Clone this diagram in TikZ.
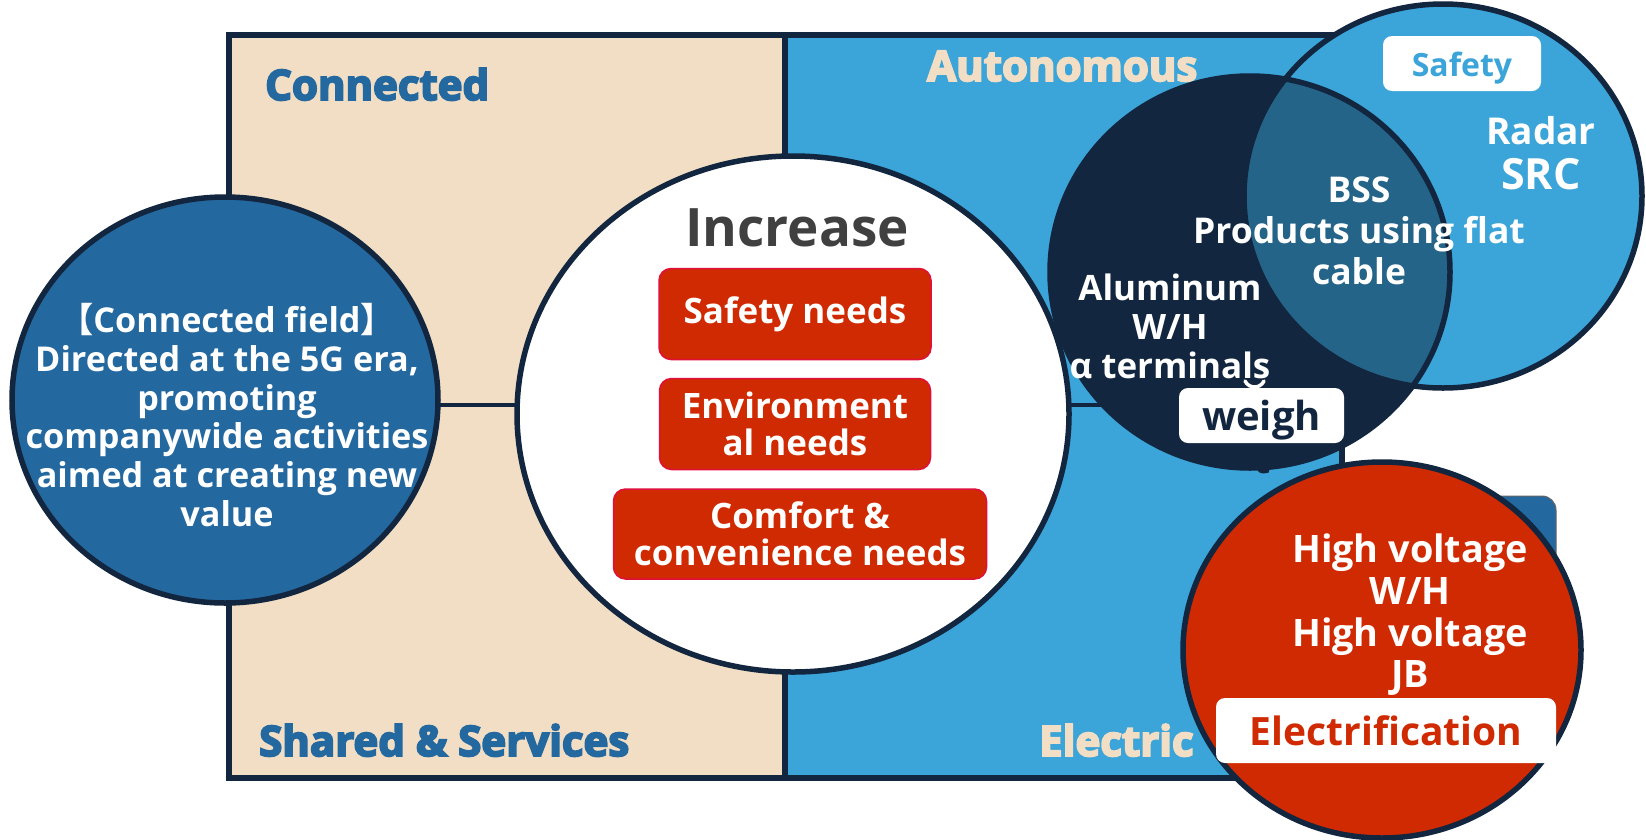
\documentclass[tikz,border=0pt]{standalone}
\usepackage{fontspec}
\setmainfont{Open Sans}
\newfontfamily\headfont{Open Sans}[BoldFeatures={FakeBold=4.5}]
\newfontfamily\cjk{Noto Sans CJK JP}
\usetikzlibrary{shapes.geometric}
\definecolor{navy}{HTML}{12263F}
\definecolor{beige}{HTML}{F2DEC4}
\definecolor{sky}{HTML}{3BA4D8}
\definecolor{steel}{HTML}{2468A0}
\definecolor{lenscol}{HTML}{256489}
\definecolor{redfill}{HTML}{D02A02}
\definecolor{redline}{HTML}{E0103A}
\definecolor{graytext}{HTML}{404040}
\begin{document}
\begin{tikzpicture}[x=1pt,y=-1pt,
  outl/.style={draw=navy,line width=5.5pt},
  head/.style={font=\headfont\bfseries\fontsize{42}{42}\selectfont, anchor=base west, inner sep=0pt},
  body/.style={font=\bfseries\fontsize{35}{39}\selectfont, text=white, align=center, inner sep=0pt},
  bigcirc/.style={ellipse, inner sep=0pt, outer sep=0pt},
  needbox/.style={fill=redfill, draw=redline, line width=1.5pt, rounded corners=12pt, inner sep=0pt,
     text=white, align=center, font=\bfseries\fontsize{35}{37.5}\selectfont},
  tagbox/.style={fill=white, rounded corners=9pt, inner sep=0pt}]
\useasboundingbox (0,0) rectangle (1646,839);
\fill[white] (0,0) rectangle (1646,839);

% panels
\draw[outl, fill=beige] (229,35) rectangle (785,778);
\draw[outl, fill=sky] (785,35) rectangle (1342,778);
\draw[draw=navy, line width=4.5pt] (229,405) -- (1342,405);

% headings
\node[head, text=steel] (hconn) at (265,100) {Connected};
\node[head, text=steel] (hshared) at (259,756) {Shared \& Services};
\node[head, text=beige] (hauto) at (927,81) {Autonomous};
\node[head, text=beige] (helec) at (1039,756) {Electric};

% left circle
\node[bigcirc, outl, fill=steel, minimum width=426pt, minimum height=406pt] (conn) at (225,400) {};
\node[body, font=\bfseries\fontsize{34.2}{38.8}\selectfont] (conntext) at (227,415) {{\cjk 【}Connected field{\cjk 】}\\Directed at the 5G era,\\promoting\\companywide activities\\aimed at creating new\\value};

% central circle
\node[bigcirc, outl, fill=white, minimum width=552pt, minimum height=516pt] (incr) at (793,414) {};
\node[font=\bfseries\fontsize{53}{53}\selectfont, text=graytext, inner sep=0pt] (incrt) at (797,228) {Increase};
\node[needbox, minimum width=272pt, minimum height=91pt] (n1) at (795,314) {Safety needs};
\node[needbox, minimum width=271pt, minimum height=91pt] (n2) at (795,424) {Environment\\al needs};
\node[needbox, minimum width=373pt, minimum height=90pt] (n3) at (800,534) {Comfort \&\\convenience needs};

% hidden text fragment below the dark circle
\node[text=navy, font=\bfseries\fontsize{40}{40}\selectfont, anchor=base, inner sep=0pt] (tfrag) at (1262,473) {t};

% dark circle and safety circle
\fill[navy] (1250,272) ellipse [x radius=200pt, y radius=196pt];
\fill[sky] (1443,196) ellipse [x radius=199pt, y radius=192pt];
\begin{scope}
  \clip (1250,272) ellipse [x radius=200pt, y radius=196pt];
  \fill[lenscol] (1443,196) ellipse [x radius=199pt, y radius=192pt];
\end{scope}
\draw[outl] (1443,196) ellipse [x radius=199pt, y radius=192pt];
\draw[outl] (1250,272) ellipse [x radius=200pt, y radius=196pt];
\coordinate (lightc) at (1250,272);
\coordinate (safec) at (1443,196);

\node[body] (alu) at (1170,326) {Aluminum\\W/H\\α terminals};
\node[body, font=\bfseries\fontsize{35.5}{41}\selectfont] (bss) at (1359,231) {BSS\\Products using flat\\cable};
\node[body, font=\bfseries\fontsize{37}{37}\selectfont] (radar) at (1541,131) {Radar};
\node[body, font=\bfseries\fontsize{43}{43}\selectfont] (src) at (1541,174) {SRC};
\node[tagbox, minimum width=158pt, minimum height=55pt] (safelbl) at (1462,63.5) {};
\node[text=sky, font=\bfseries\fontsize{32}{32}\selectfont, inner sep=0pt] (safetxt) at (1462,68) {Safety};

% descender fragment peeking above the weigh tag
\coordinate (ga) at (1245,381);
\coordinate (gb) at (1264,381);
\draw[white, line width=3.5pt, line cap=round] (ga) .. controls (1249,389) and (1260,389) .. (gb);
\node[tagbox, minimum width=165pt, minimum height=55pt] (weigh) at (1261.5,415.5) {};
\node[text=navy, font=\bfseries\fontsize{40}{40}\selectfont, inner sep=0pt] (weightxt) at (1261.5,420) {weigh};

% electrification
\draw[fill=steel, draw=gray!80!black, line width=1pt, rounded corners=14pt] (1330,496) rectangle (1556,700);
\node[bigcirc, outl, fill=redfill, minimum width=398pt, minimum height=376pt] (elec) at (1382,650) {};
\node[body, font=\bfseries\fontsize{37.8}{41.7}\selectfont] (hv) at (1410,615) {High voltage\\W/H\\High voltage\\JB};
\node[tagbox, minimum width=340pt, minimum height=65pt] (eleclbl) at (1386,730.5) {};
\node[text=redfill, font=\bfseries\fontsize{39}{39}\selectfont, inner sep=0pt] (electxt) at (1386,730.5) {Electrification};
\end{tikzpicture}
\end{document}
